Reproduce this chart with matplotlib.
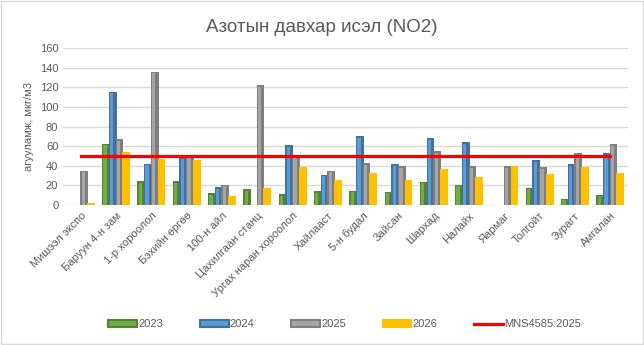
import matplotlib.pyplot as plt
import numpy as np
from matplotlib.patches import Patch
from matplotlib.lines import Line2D

plt.rcParams['font.family'] = ['Liberation Sans', 'DejaVu Sans']

categories = ['Мишээл экспо', 'Баруун 4-н зам', '1-р хороолол', 'Бэхийн өргөө',
              '100-н айл', 'Цахилгаан станц', 'Ургах наран хороолол', 'Хайлааст',
              '5-н будал', 'Зайсан', 'Шархад', 'Налайх', 'Яармаг', 'Толгойт',
              'Зурагт', 'Амгалан']

v2023 = [0, 62.6, 24, 24, 12, 16, 11, 14, 14.6, 13.6, 23.8, 20.7, 0, 17.7, 6.4, 10.5]
v2024 = [0, 115.6, 42, 48.6, 18, 0, 61, 31, 70, 41.5, 68, 64, 0, 45.6, 41.5, 52.7]
v2025 = [35, 67, 136, 49, 20.7, 122, 49, 35, 42.5, 39.5, 54.8, 39.5, 39.5, 38.5, 52.7, 62]
v2026 = [1.5, 54, 47, 46, 9.2, 17.3, 39, 25.5, 32.6, 25.5, 36.7, 28.6, 40, 31.6, 38.8, 32.6]
standard = 50

# (name, values, edge colour, inner colour)
series = [
    ('2023', v2023, '#548235', '#70AD47'),
    ('2024', v2024, '#41719C', '#5B9BD5'),
    ('2025', v2025, '#7F7F7F', '#A5A5A5'),
    ('2026', v2026, '#FFC000', '#FFC000'),
]

fig = plt.figure(figsize=(6.44, 3.45), dpi=100)
ax = fig.add_axes([0.098, 0.406, 0.877, 0.454])

x = np.arange(len(categories))
step = 0.19
w = 0.22
for k, (name, vals, dark, light) in enumerate(series):
    pos = x + (k - 1.5) * step
    vals = np.array(vals)
    ax.bar(pos, vals, width=w, color=dark, zorder=3)
    if dark != light:
        # lighter stripe inside the bar, like Excel's bevel
        inner = np.clip(vals - 1.5, 0, None)
        ax.bar(pos - w * 0.12, inner, width=w * 0.42, color=light, zorder=4)

ax.plot([x[0], x[-1]], [standard, standard], color='#FF0000', lw=2.3, zorder=5)

ax.set_xlim(-0.5, len(categories) - 0.5)
ax.set_ylim(0, 160)
ax.set_yticks(np.arange(0, 161, 20))
ax.yaxis.grid(True, color='#D9D9D9', lw=1, zorder=0)
ax.set_axisbelow(True)
for s in ax.spines.values():
    s.set_visible(False)
ax.tick_params(axis='both', length=0, colors='#595959', labelsize=8)
ax.set_xticks(x)
ax.set_xticklabels(categories, rotation=45, ha='right', rotation_mode='anchor')
ax.tick_params(axis='x', pad=4)
ax.set_ylabel('агууламж, мкг/м3', color='#595959', fontsize=8, labelpad=4)

fig.text(0.5, 0.92, 'Азотын давхар исэл (NO2)', color='#595959', fontsize=13.5,
         ha='center', va='center')

handles = [Patch(facecolor=l, edgecolor=d, lw=1.5) for _, _, d, l in series]
handles.append(Line2D([0], [0], color='#FF0000', lw=2.3))
labels = [s[0] for s in series] + ['MNS4585:2025']
leg = fig.legend(handles, labels, loc='center', bbox_to_anchor=(0.535, 0.06), ncol=5,
                 frameon=False, fontsize=8, handlelength=2.6, handleheight=0.6,
                 columnspacing=3.3, handletextpad=0.1)
for t in leg.get_texts():
    t.set_color('#595959')

fig.patches.append(plt.Rectangle((0.001, 0.002), 0.997, 0.995, transform=fig.transFigure,
                                 fill=False, edgecolor='#D9D9D9', lw=1))

fig.savefig('out.png', dpi=100)
